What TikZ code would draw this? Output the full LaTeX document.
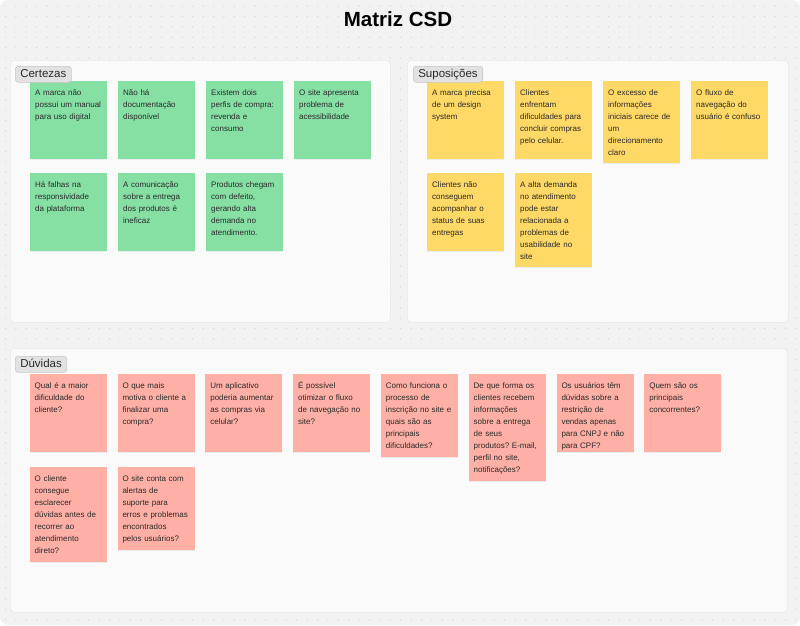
\documentclass[tikz,border=0pt]{standalone}
\usepackage{fontspec}
\setmainfont{Liberation Sans}
\usepackage{xcolor}
\definecolor{csdFundo}{HTML}{F2F2F2}
\definecolor{csdPonto}{HTML}{D4D4D4}
\definecolor{csdPainel}{HTML}{FAFAFA}
\definecolor{csdBorda}{HTML}{E8E8E8}
\definecolor{csdEtiqueta}{HTML}{E2E2E2}
\definecolor{csdEtiquetaBorda}{HTML}{C6C6C6}
\definecolor{csdTexto}{HTML}{2A2A2A}
\definecolor{csdVerde}{HTML}{86E0A4}
\definecolor{csdAmarelo}{HTML}{FFD966}
\definecolor{csdRosa}{HTML}{FFB0A6}
\usetikzlibrary{shadows}
\newcommand{\SemHifen}{\hyphenpenalty=10000\exhyphenpenalty=10000\frenchspacing\relax}
\tikzset{
  %% ── Board ────────────────────────────────────────────────────────────
  %% One pale panel per quadrant, a grey tab naming it in the corner.
  painel/.style    = {draw=csdBorda, line width=0.6pt, fill=csdPainel,
                      rounded corners=4pt, inner sep=0pt, anchor=north west},
  etiqueta/.style  = {draw=csdEtiquetaBorda, fill=csdEtiqueta, line width=0.6pt,
                      rounded corners=3pt, text=csdTexto, anchor=north west,
                      font=\fontsize{11.5}{13}\selectfont, inner xsep=5pt,
                      inner ysep=0pt, minimum height=16pt,
                      text height=8.5pt, text depth=2.5pt},
  titulo/.style    = {font=\fontsize{20.5}{24}\selectfont\bfseries,
                      text=black, anchor=base},
  %%
  %% ── Sticky notes ─────────────────────────────────────────────────────
  %% Text hangs from the top: the first baseline sits 14.5pt down and the
  %% depth is stretched to give the note its height.
  nota/.style      = {anchor=north west, inner xsep=5pt, inner ysep=0pt,
                      text width=67pt, align=left, text=csdTexto,
                      font=\fontsize{8}{12}\selectfont,
                      execute at begin node=\SemHifen,
                      text height=14.5pt, text depth=63.5pt,
                      drop shadow={shadow xshift=0pt, shadow yshift=-1.2pt,
                                   opacity=0.12}},
  notaVerde/.style   = {nota, fill=csdVerde},
  notaAmarela/.style = {nota, fill=csdAmarelo},
  notaRosa/.style    = {nota, fill=csdRosa},
}

\begin{document}
\begin{tikzpicture}[x=1pt, y=-1pt]

\useasboundingbox (0,0) rectangle (800,625);
\fill[white] (0,0) rectangle (800,625);
\fill[csdFundo, rounded corners=8pt] (0,0) rectangle (800,625);
\foreach \i in {0,...,76}
  \foreach \j in {0,...,59}
    \fill[csdPonto] ({5.5+\i*10.4}, {6+\j*10.4}) circle (0.7);

\node[titulo] (titulo) at (398, 26) {Matriz CSD};

%% quadrants
\node[painel, minimum width=380, minimum height=262] (painelC) at (10, 60) {};
\node[painel, minimum width=381, minimum height=262] (painelS) at (407, 60) {};
\node[painel, minimum width=777, minimum height=264] (painelD) at (10, 348) {};

%% Certezas
\node[notaVerde] (notaC1) at (30, 81)  {A marca não\\possui um manual\\para uso digital};
\node[notaVerde] (notaC2) at (118, 81) {Não há\\documentação\\disponível};
\node[notaVerde] (notaC3) at (206, 81) {Existem dois\\perfis de compra:\\revenda e\\consumo};
\node[notaVerde] (notaC4) at (294, 81) {O site apresenta\\problema de\\acessibilidade};
\node[notaVerde] (notaC5) at (30, 173)  {Há falhas na\\responsividade\\da plataforma};
\node[notaVerde] (notaC6) at (118, 173) {A comunicação\\sobre a entrega\\dos produtos é\\ineficaz};
\node[notaVerde] (notaC7) at (206, 173) {Produtos chegam\\com defeito,\\gerando alta\\demanda no\\atendimento.};

%% Suposições
\node[notaAmarela] (notaS1) at (427, 81) {A marca precisa\\de um design\\system};
\node[notaAmarela] (notaS2) at (515, 81) {Clientes\\enfrentam\\dificuldades para\\concluir compras\\pelo celular.};
\node[notaAmarela, text depth=67.5pt] (notaS3) at (603, 81)
     {O excesso de\\informações\\iniciais carece de\\um\\direcionamento\\claro};
\node[notaAmarela] (notaS4) at (691, 81) {O fluxo de\\navegação do\\usuário é confuso};
\node[notaAmarela] (notaS5) at (427, 173) {Clientes não\\conseguem\\acompanhar o\\status de suas\\entregas};
\node[notaAmarela, text depth=79.5pt] (notaS6) at (515, 173)
     {A alta demanda\\no atendimento\\pode estar\\relacionada a\\problemas de\\usabilidade no\\site};

%% Dúvidas
\node[notaRosa] (notaD1) at (29.5, 374)  {Qual é a maior\\dificuldade do\\cliente?};
\node[notaRosa] (notaD2) at (117.3, 374) {O que mais\\motiva o cliente a\\finalizar uma\\compra?};
\node[notaRosa] (notaD3) at (205.1, 374) {Um aplicativo\\poderia aumentar\\as compras via\\celular?};
\node[notaRosa] (notaD4) at (292.9, 374) {É possível\\otimizar o fluxo\\de navegação no\\site?};
\node[notaRosa, text depth=68.5pt] (notaD5) at (380.7, 374)
     {Como funciona o\\processo de\\inscrição no site e\\quais são as\\principais\\dificuldades?};
\node[notaRosa, text depth=92.5pt] (notaD6) at (468.5, 374)
     {De que forma os\\clientes recebem\\informações\\sobre a entrega\\de seus\\produtos? E-mail,\\perfil no site,\\notificações?};
\node[notaRosa] (notaD7) at (556.3, 374) {Os usuários têm\\dúvidas sobre a\\restrição de\\vendas apenas\\para CNPJ e não\\para CPF?};
\node[notaRosa] (notaD8) at (644.1, 374) {Quem são os\\principais\\concorrentes?};
\node[notaRosa, text depth=80.5pt] (notaD9) at (29.5, 467)
     {O cliente\\consegue\\esclarecer\\dúvidas antes de\\recorrer ao\\atendimento\\direto?};
\node[notaRosa, text depth=68.5pt] (notaD10) at (117.3, 467)
     {O site conta com\\alertas de\\suporte para\\erros e problemas\\encontrados\\pelos usuários?};

%% tabs sit over the first note of each quadrant
\node[etiqueta] (rotC) at (15, 66)  {Certezas};
\node[etiqueta] (rotS) at (413, 66) {Suposições};
\node[etiqueta] (rotD) at (15, 356) {Dúvidas};

\end{tikzpicture}
\end{document}
